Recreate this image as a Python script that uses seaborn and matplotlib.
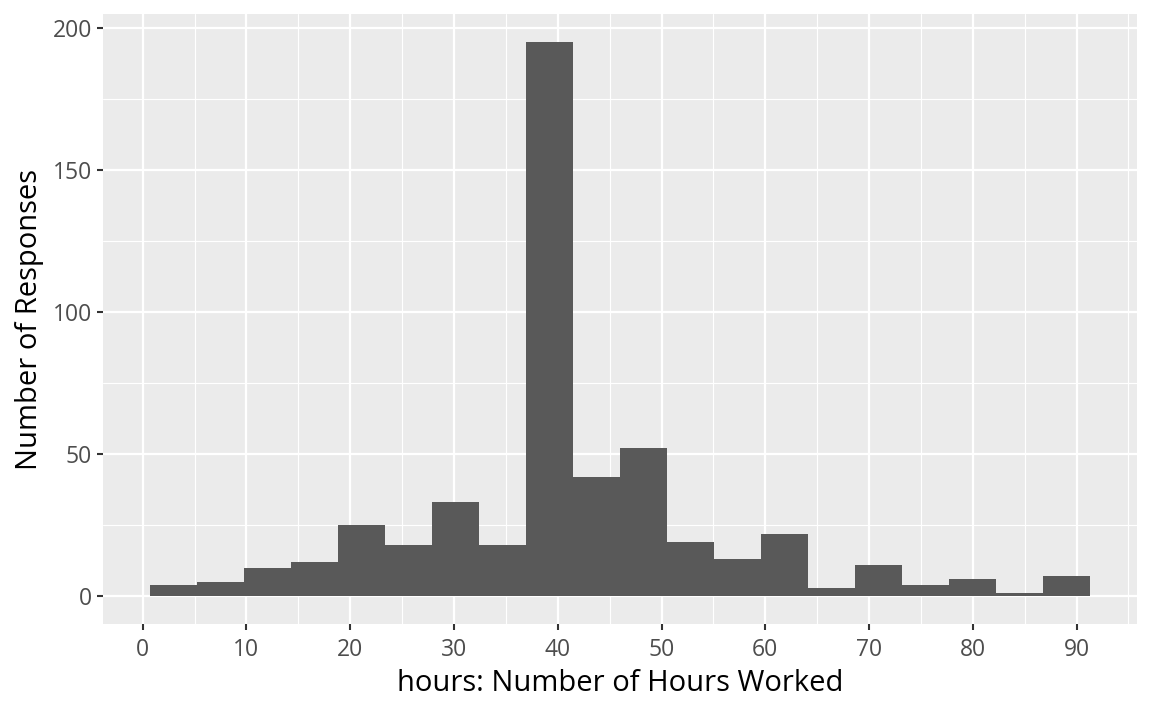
import numpy as np
import pandas as pd
import matplotlib
matplotlib.use("Agg")
import matplotlib.pyplot as plt
from matplotlib.ticker import MultipleLocator
import seaborn as sns

# histogram: bin edges (hours) and counts per bin
bin_edges = [0.7, 5.23, 9.76, 14.29, 18.82, 23.35, 27.88, 32.41, 36.94, 41.47,
             46.0, 50.53, 55.06, 59.59, 64.12, 68.65, 73.18, 77.71, 82.24, 86.77, 91.3]
counts = [4, 5, 10, 12, 25, 18, 33, 18, 195, 42,
          52, 19, 13, 22, 3, 11, 4, 6, 1, 7]
x_ticks = [0, 10, 20, 30, 40, 50, 60, 70, 80, 90]
y_ticks = [0, 50, 100, 150, 200]

centers = [(a + b) / 2 for a, b in zip(bin_edges[:-1], bin_edges[1:])]
df = pd.DataFrame({"hours": centers, "n": counts})

sns.set_theme(style="darkgrid")
plt.rcParams["font.family"] = ["Open Sans", "DejaVu Sans"]

fig = plt.figure(figsize=(11.52, 7.11), dpi=100)
ax = fig.add_axes([0.0894, 0.1224, 0.8976, 0.8578])

sns.histplot(data=df, x="hours", weights="n", bins=bin_edges,
             color="#595959", alpha=1, edgecolor="none", linewidth=0, ax=ax)

ax.set_facecolor("#EBEBEB")
span = bin_edges[-1] - bin_edges[0]
ax.set_xlim(bin_edges[0] - 0.05 * span, bin_edges[-1] + 0.05 * span)
ymax = max(counts)
ax.set_ylim(-0.05 * ymax, 1.05 * ymax)
ax.set_xticks(x_ticks)
ax.set_yticks(y_ticks)
ax.xaxis.set_minor_locator(MultipleLocator(5))
ax.yaxis.set_minor_locator(MultipleLocator(25))
ax.grid(which="major", color="white", linewidth=1.6)
ax.grid(which="minor", color="white", linewidth=0.8)
ax.set_axisbelow(True)
for s in ax.spines.values():
    s.set_visible(False)

ax.tick_params(axis="both", which="major", length=4, width=1.5, color="#333333",
               labelsize=16.5, labelcolor="#4D4D4D", pad=4, bottom=True, left=True)
ax.tick_params(axis="x", which="major", pad=6)
ax.tick_params(axis="both", which="minor", length=0)

ax.set_xlabel("hours: Number of Hours Worked", fontsize=21, color="black", labelpad=5)
ax.set_ylabel("Number of Responses", fontsize=21, color="black", labelpad=6)

fig.savefig("out.png", dpi=100, facecolor="white")
